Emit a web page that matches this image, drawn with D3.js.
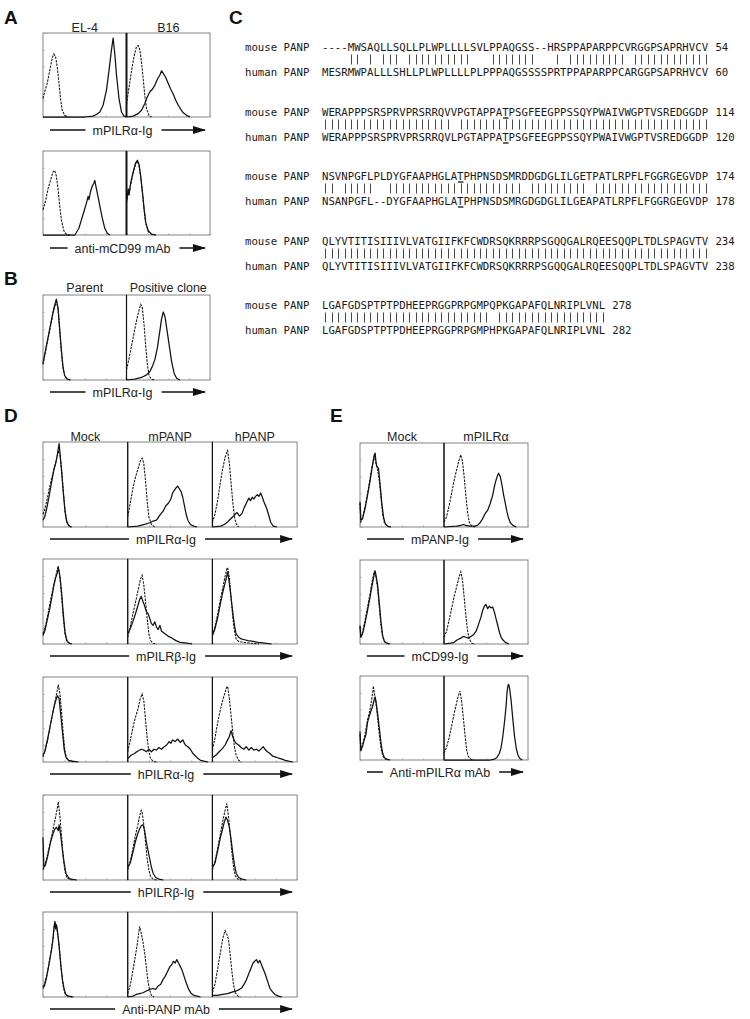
<!DOCTYPE html>
<html>
<head>
<meta charset="utf-8">
<script src="https://cdn.jsdelivr.net/npm/d3@7"></script>
<style>
  body { margin: 0; background: #fff; }
  svg { display: block; }
  .lbl { font-family: "Liberation Sans", Arial, sans-serif; font-size: 12.5px; fill: #222; }
  .letter { font-family: "Liberation Sans", Arial, sans-serif; font-size: 19px; font-weight: bold; fill: #111; }
  .seq { font-family: "DejaVu Sans Mono", monospace; font-size: 10.7px; fill: #1a1a1a; white-space: pre; }
</style>
</head>
<body>
<div id="fig"></div>
<script>
// ---- panel A : EL-4 / B16 stained with mPILRa-Ig and anti-mCD99 ----
const aColumns = ["EL-4", "B16"];
const aMarkers = ["mPILRα-Ig", "anti-mCD99 mAb"];
const aControl = [
  [
    [[0,22],[2,30],[5,40],[8,55],[11,70],[13,75],[15,72],[17,60],[19,42],[21,22],[23,8],[26,2],[30,0]],
    [[0,15],[3,35],[6,55],[9,72],[12,84],[14,85],[16,80],[18,65],[20,45],[22,25],[24,10],[27,2],[30,0]]
  ],
  [
    [[0,30],[3,40],[6,55],[9,65],[12,75],[14,77],[16,70],[18,55],[20,35],[22,18],[25,5],[28,1],[32,0]],
    [[0,38],[2,52],[3,47],[5,60],[8,74],[11,85],[13,88],[15,83],[17,69],[19,51],[21,31],[23,14],[26,4],[30,1],[35,0]]
  ]
];
const aStained = [
  [
    [[0,0],[50,0],[60,1],[64,3],[68,6],[72,14],[76,32],[79,55],[82,80],[84,94],[86,75],[88,50],[91,22],[94,6],[97,1],[100,0]],
    [[0,0],[8,1],[14,4],[18,8],[22,16],[25,24],[28,30],[31,33],[34,38],[37,45],[40,50],[42,55],[44,52],[47,47],[50,40],[53,33],[56,27],[59,20],[62,14],[65,9],[68,5],[72,2],[76,0]]
  ],
  [
    [[0,0],[38,0],[40,3],[43,8],[46,18],[49,28],[52,38],[54,46],[55,42],[57,52],[59,58],[61,62],[62,65],[64,55],[66,45],[68,35],[71,20],[74,8],[77,2],[80,0]],
    [[0,40],[2,55],[3,48],[5,62],[8,75],[11,86],[13,89],[15,84],[17,70],[19,52],[21,32],[23,15],[26,5],[30,1],[35,0]]
  ]
];

// ---- panel B : parent vs positive clone ----
const bColumns = ["Parent", "Positive clone"];
const bMarkers = ["mPILRα-Ig"];
const bControl = [[
  [[0,18],[3,33],[6,48],[9,63],[12,78],[14,86],[16,92],[18,84],[20,58],[22,33],[24,14],[26,5],[29,1],[33,0]],
  [[0,12],[3,25],[6,40],[9,55],[12,70],[15,82],[17,89],[19,85],[21,65],[23,40],[25,18],[27,5],[30,1],[34,0]]
]];
const bStained = [[
  [[0,20],[3,35],[6,50],[9,65],[12,80],[14,88],[16,95],[18,85],[20,60],[22,35],[24,15],[26,5],[29,1],[33,0]],
  [[0,0],[10,1],[18,3],[24,6],[28,10],[31,16],[34,24],[37,38],[40,58],[42,72],[44,80],[46,75],[48,62],[51,42],[54,22],[57,8],[60,2],[64,0]]
]];

// ---- panel C : mouse / human PANP alignment ----
const seqMouse = [
  "----MWSAQLLSQLLPLWPLLLLSVLPPAQGSS--HRSPPAPARPPCVRGGPSAPRHVCV",
  "WERAPPPSRSPRVPRSRRQVVPGTAPPATPSGFEEGPPSSQYPWAIVWGPTVSREDGGDP",
  "NSVNPGFLPLDYGFAAPHGLATPHPNSDSMRDDGDGLILGETPATLRPFLFGGRGEGVDP",
  "QLYVTITISIIIVLVATGIIFKFCWDRSQKRRRPSGQQGALRQEESQQPLTDLSPAGVTV",
  "LGAFGDSPTPTPDHEEPRGGPRPGMPQPKGAPAFQLNRIPLVNL"
];
const seqHuman = [
  "MESRMWPALLLSHLLPLWPLLLLPLPPPAQGSSSSPRTPPAPARPPCARGGPSAPRHVCV",
  "WERAPPPSRSPRVPRSRRQVLPGTAPPATPSGFEEGPPSSQYPWAIVWGPTVSREDGGDP",
  "NSANPGFL--DYGFAAPHGLATPHPNSDSMRGDGDGLILGEAPATLRPFLFGGRGEGVDP",
  "QLYVTITISIIIVLVATGIIFKFCWDRSQKRRRPSGQQGALRQEESQQPLTDLSPAGVTV",
  "LGAFGDSPTPTPDHEEPRGGPRPGMPHPKGAPAFQLNRIPLVNL"
];
const seqMouseEnd = [54, 114, 174, 234, 278];
const seqHumanEnd = [60, 120, 178, 238, 282];
const seqUnderline = [null, 28, 21, null, null];   // index of the underlined T
const seqNames = ["mouse PANP", "human PANP"];

// ---- panel D : mock / mPANP / hPANP transfectants ----
const dColumns = ["Mock", "mPANP", "hPANP"];
const dMarkers = ["mPILRα-Ig", "mPILRβ-Ig", "hPILRα-Ig", "hPILRβ-Ig", "Anti-PANP mAb"];
const dControl = [
  [
    [[0,15],[2,20],[5,33],[8,48],[11,60],[14,72],[16,80],[18,90],[20,85],[22,68],[24,42],[26,20],[28,7],[31,1],[34,0]],
    [[0,12],[3,28],[6,45],[9,58],[12,68],[15,78],[17,81],[19,75],[21,55],[23,30],[25,12],[28,3],[32,0]],
    [[0,5],[3,15],[6,30],[9,50],[12,68],[15,82],[17,88],[18,90],[20,75],[22,52],[24,30],[26,12],[28,4],[31,0]]
  ],
  [
    [[0,12],[3,22],[6,36],[9,52],[12,66],[15,80],[17,88],[18,92],[20,78],[22,55],[24,30],[26,12],[29,2],[33,0]],
    [[0,8],[3,20],[6,35],[9,48],[12,62],[15,76],[17,81],[19,70],[21,50],[23,30],[25,12],[27,4],[30,1],[34,0]],
    [[0,10],[3,20],[6,34],[9,50],[12,65],[15,80],[17,88],[18,90],[20,78],[22,55],[24,32],[26,15],[28,6],[31,3],[36,2],[45,1],[55,0]]
  ],
  [
    [[0,6],[3,15],[6,28],[9,45],[12,60],[15,75],[17,85],[18,91],[20,80],[22,58],[24,32],[26,12],[28,4],[32,1],[38,0]],
    [[0,12],[3,25],[6,40],[9,52],[12,62],[15,75],[17,80],[19,72],[21,50],[23,28],[25,12],[27,4],[30,1],[34,0]],
    [[0,14],[3,28],[6,45],[9,60],[12,72],[15,82],[17,88],[18,89],[20,75],[22,55],[24,35],[26,18],[28,8],[31,2],[34,0]]
  ],
  [
    [[0,12],[2,16],[5,28],[8,42],[11,55],[13,65],[15,75],[17,85],[18,92],[20,75],[22,50],[24,25],[26,10],[28,3],[31,1],[35,0]],
    [[0,12],[3,22],[6,36],[9,52],[12,65],[14,75],[16,82],[17,80],[19,65],[21,45],[23,25],[25,12],[27,4],[30,1],[34,0]],
    [[0,12],[3,22],[6,36],[9,52],[12,68],[15,82],[17,90],[19,75],[21,55],[23,32],[25,15],[27,5],[30,1],[34,0]]
  ],
  [
    [[0,12],[2,16],[5,28],[8,45],[11,62],[13,80],[14,88],[16,82],[18,70],[20,50],[22,28],[24,12],[26,4],[29,1],[34,0]],
    [[0,4],[3,14],[6,30],[9,48],[11,60],[13,75],[14,83],[16,75],[18,65],[20,52],[22,35],[24,18],[26,8],[28,2],[31,0]],
    [[0,5],[3,15],[6,32],[9,50],[11,62],[13,72],[15,78],[17,74],[19,68],[21,50],[23,30],[25,14],[27,5],[30,1],[33,0]]
  ]
];
const dStained = [
  [
    [[0,8],[2,12],[4,20],[7,35],[10,52],[13,68],[15,75],[16,80],[17,85],[18,92],[19,98],[20,88],[22,65],[24,40],[26,18],[28,6],[30,2],[33,0]],
    [[0,0],[12,1],[20,3],[26,5],[30,7],[34,8],[38,14],[42,19],[45,25],[48,28],[51,33],[53,40],[55,43],[57,46],[59,48],[61,45],[63,42],[65,35],[67,25],[69,15],[71,8],[74,3],[78,1],[82,0]],
    [[0,0],[10,1],[14,3],[18,6],[22,10],[26,14],[29,17],[32,13],[35,16],[38,24],[41,30],[43,34],[45,31],[47,35],[49,33],[51,36],[53,38],[55,36],[57,40],[59,35],[61,29],[64,22],[67,12],[69,5],[72,1],[76,0]]
  ],
  [
    [[0,10],[2,15],[5,28],[8,42],[11,58],[13,70],[15,78],[17,84],[18,90],[20,80],[22,60],[24,35],[26,14],[28,4],[31,1],[34,0]],
    [[0,12],[3,18],[6,26],[9,35],[12,45],[14,52],[16,56],[18,50],[20,45],[22,38],[24,36],[26,30],[28,24],[30,22],[32,26],[34,20],[36,17],[38,22],[40,15],[44,12],[48,9],[52,7],[57,4],[62,2],[70,1],[76,0]],
    [[0,10],[3,18],[6,30],[9,45],[12,60],[15,72],[17,80],[18,85],[20,72],[22,55],[24,38],[26,22],[28,12],[31,8],[34,6],[38,5],[42,4],[48,3],[54,2],[62,1],[70,0]]
  ],
  [
    [[0,8],[2,12],[5,25],[8,40],[11,55],[13,65],[15,72],[17,78],[19,75],[21,55],[23,35],[25,15],[27,6],[30,2],[35,1],[42,0]],
    [[0,4],[4,8],[8,10],[12,13],[16,15],[19,14],[22,12],[25,15],[28,12],[31,15],[34,14],[37,17],[40,15],[43,18],[46,20],[49,24],[51,22],[53,26],[56,24],[59,27],[62,23],[65,26],[68,20],[71,18],[74,15],[77,10],[80,7],[83,4],[86,2],[90,1],[95,0]],
    [[0,5],[4,8],[8,12],[12,16],[15,20],[18,26],[20,30],[22,37],[24,30],[26,25],[28,22],[31,20],[34,17],[37,15],[40,18],[43,14],[46,17],[49,14],[52,15],[55,13],[58,16],[60,18],[62,15],[65,12],[68,10],[71,7],[74,6],[77,5],[80,4],[83,3],[86,2],[90,1],[95,0]]
  ],
  [
    [[0,50],[1,15],[3,18],[6,30],[9,45],[12,55],[14,60],[16,62],[18,58],[19,65],[21,52],[23,35],[25,20],[27,8],[30,3],[33,1],[40,0]],
    [[0,15],[3,20],[6,32],[9,45],[12,55],[14,60],[16,64],[18,65],[20,58],[22,45],[24,35],[26,25],[28,15],[30,8],[33,3],[37,1],[42,0]],
    [[0,15],[3,20],[6,33],[9,48],[12,60],[14,68],[16,74],[18,70],[20,62],[22,48],[24,32],[26,18],[28,8],[31,3],[35,1],[40,0]]
  ],
  [
    [[0,10],[2,14],[4,22],[7,38],[10,55],[12,70],[13,82],[14,89],[15,80],[16,85],[17,78],[19,60],[21,38],[23,20],[25,9],[27,3],[30,1],[36,0]],
    [[0,0],[6,1],[10,3],[14,4],[18,5],[22,7],[26,9],[30,10],[33,9],[36,13],[39,15],[42,21],[44,24],[46,28],[48,32],[50,36],[52,38],[54,42],[56,40],[58,44],[60,40],[62,36],[64,32],[66,26],[68,20],[70,14],[72,9],[75,4],[78,2],[82,1],[86,0]],
    [[0,2],[6,2],[12,3],[18,4],[24,6],[28,7],[32,9],[35,11],[38,16],[40,20],[42,25],[44,30],[46,35],[48,40],[50,42],[52,44],[54,40],[56,43],[58,38],[60,33],[62,28],[64,22],[66,16],[68,10],[71,6],[74,3],[78,1],[82,0]]
  ]
];

// ---- panel E : mock / mPILRa transfectants ----
const eColumns = ["Mock", "mPILRα"];
const eMarkers = ["mPANP-Ig", "mCD99-Ig", "Anti-mPILRα mAb"];
const eControl = [
  [
    [[0,28],[1,6],[3,10],[6,24],[9,40],[12,58],[14,70],[16,80],[17,84],[19,76],[21,68],[23,55],[25,35],[27,15],[29,5],[32,1],[36,0]],
    [[0,6],[3,12],[6,25],[9,40],[12,55],[15,68],[18,80],[20,86],[22,78],[24,60],[26,38],[28,18],[30,6],[33,1],[37,0]]
  ],
  [
    [[0,20],[1,8],[3,14],[6,28],[9,44],[12,60],[14,72],[16,82],[17,86],[19,80],[21,66],[23,44],[25,22],[27,8],[30,2],[34,0]],
    [[0,8],[3,15],[6,28],[9,42],[12,56],[15,68],[18,80],[20,86],[22,76],[24,56],[26,34],[28,16],[30,6],[33,1],[37,0]]
  ],
  [
    [[0,30],[1,10],[3,18],[5,26],[7,36],[9,48],[11,56],[13,66],[15,80],[16,88],[17,80],[19,68],[21,50],[23,30],[25,14],[27,5],[30,1],[34,0]],
    [[0,8],[3,15],[6,26],[9,40],[12,55],[15,68],[17,76],[19,82],[21,70],[23,50],[25,30],[27,12],[29,4],[32,1],[36,0]]
  ]
];
const eStained = [
  [
    [[0,30],[1,8],[3,10],[6,22],[9,38],[12,55],[14,68],[16,80],[17,86],[18,88],[19,78],[20,72],[22,70],[24,50],[26,28],[28,12],[30,4],[33,1],[37,0]],
    [[0,0],[15,1],[20,2],[23,3],[26,2],[30,1],[36,1],[40,2],[43,5],[46,10],[49,16],[52,20],[55,28],[58,38],[60,48],[62,56],[64,62],[65,64],[67,60],[69,50],[71,38],[73,28],[75,18],[77,10],[79,5],[82,2],[86,0]]
  ],
  [
    [[0,22],[1,8],[3,12],[6,25],[9,40],[12,56],[14,68],[16,78],[17,84],[18,87],[19,82],[21,70],[23,48],[25,26],[27,10],[29,3],[32,1],[36,0]],
    [[0,0],[8,1],[12,2],[16,5],[20,7],[23,9],[26,8],[29,7],[32,9],[35,11],[38,15],[40,20],[42,26],[44,32],[46,40],[48,45],[50,47],[52,42],[54,45],[56,43],[58,44],[60,38],[62,30],[64,22],[66,14],[68,8],[70,5],[73,2],[77,0]]
  ],
  [
    [[0,34],[1,12],[3,16],[5,24],[7,30],[9,45],[11,52],[13,58],[15,64],[17,72],[18,75],[19,70],[21,55],[23,38],[25,20],[27,8],[29,3],[32,1],[36,0]],
    [[0,0],[55,0],[60,1],[63,3],[66,8],[68,15],[70,28],[72,45],[74,65],[75,80],[76,88],[77,90],[78,86],[80,70],[82,48],[84,28],[86,14],[88,6],[90,2],[93,0]]
  ]
];

const W = 750, H = 1019;
const svg = d3.select("#fig").append("svg")
    .attr("width", W).attr("height", H)
    .attr("viewBox", `0 0 ${W} ${H}`);
svg.append("rect").attr("width", W).attr("height", H).attr("fill", "#fff");

svg.append("defs").append("marker")
    .attr("id", "arrow")
    .attr("markerUnits", "userSpaceOnUse")
    .attr("markerWidth", 13).attr("markerHeight", 8)
    .attr("refX", 12).attr("refY", 4)
    .attr("orient", "auto")
  .append("path")
    .attr("d", "M0,0 L13,4 L0,8 Z")
    .attr("fill", "#111");

// panel letters
[["A", 4, 24], ["B", 4, 285], ["C", 229, 24], ["D", 4, 422], ["E", 330, 422]].forEach(d => {
  svg.append("text").attr("class", "letter").attr("x", d[1]).attr("y", d[2]).text(d[0]);
});

// one block of flow histograms: columns x rows
const drawFlow = (cfg) => {
  let g = svg.append("g");
  let nCols = cfg.columns.length;
  let right = cfg.left + nCols * cfg.colW;

  // column headers
  cfg.columns.forEach((c, i) => {
    g.append("text").attr("class", "lbl")
      .attr("x", cfg.left + (i + 0.5) * cfg.colW)
      .attr("y", cfg.headerY)
      .attr("text-anchor", "middle")
      .text(c);
  });

  cfg.markers.forEach((m, r) => {
    let top = cfg.rowTops[r], bottom = top + cfg.rowH;
    let y = d3.scaleLinear().domain([0, 100]).range([bottom, top]);

    cfg.columns.forEach((c, i) => {
      let x0 = cfg.left + i * cfg.colW;
      let x = d3.scaleLinear().domain([0, 100]).range([x0, x0 + cfg.colW]);
      let xLog = d3.scaleLog().domain([1, 1e4]).range([x0, x0 + cfg.colW]);

      g.append("rect")
        .attr("x", x0).attr("y", top)
        .attr("width", cfg.colW).attr("height", cfg.rowH)
        .attr("fill", "none").attr("stroke", "#777").attr("stroke-width", 0.9);

      // tiny inward log ticks on the fluorescence axis
      let ax = g.append("g").attr("transform", `translate(0,${bottom})`)
        .call(d3.axisBottom(xLog).ticks(4).tickSize(-2).tickFormat(""));
      ax.select(".domain").remove();
      ax.selectAll("line").attr("stroke", "#999").attr("stroke-width", 0.5);
      if (i === 0) {
        let ay = g.append("g").attr("transform", `translate(${x0},0)`)
          .call(d3.axisLeft(y).ticks(5).tickSize(-2).tickFormat(""));
        ay.select(".domain").remove();
        ay.selectAll("line").attr("stroke", "#999").attr("stroke-width", 0.5);
      }

      let line = d3.line().x(d => x(d[0])).y(d => y(d[1]));
      g.append("path")
        .attr("d", line(cfg.control[r][i]))
        .attr("fill", "none").attr("stroke", "#111")
        .attr("stroke-width", 1.05).attr("stroke-dasharray", "2.4,1.1");
      g.append("path")
        .attr("d", line(cfg.stained[r][i]))
        .attr("fill", "none").attr("stroke", "#111")
        .attr("stroke-width", 1.25).attr("stroke-linejoin", "round");

      if (i > 0) {
        g.append("line")
          .attr("x1", x0).attr("x2", x0).attr("y1", top).attr("y2", bottom)
          .attr("stroke", "#111").attr("stroke-width", cfg.divW);
      }
    });

    // axis caption with bar and arrow
    let cx = (cfg.left + right) / 2 - 4;
    let ly = bottom + cfg.capGap;
    let t = g.append("text").attr("class", "lbl")
      .attr("x", cx).attr("y", ly + 4.5)
      .attr("text-anchor", "middle").text(m);
    let tw = t.node().getComputedTextLength();
    g.append("line")
      .attr("x1", cfg.left + 7).attr("x2", cx - tw / 2 - 7)
      .attr("y1", ly).attr("y2", ly)
      .attr("stroke", "#111").attr("stroke-width", 1.5);
    g.append("line")
      .attr("x1", cx + tw / 2 + 9).attr("x2", right - 5)
      .attr("y1", ly).attr("y2", ly)
      .attr("stroke", "#111").attr("stroke-width", 1.5)
      .attr("marker-end", "url(#arrow)");
  });
};

drawFlow({left: 43, colW: 83.5, rowTops: [33, 151], rowH: 84, headerY: 32, capGap: 13,
  columns: aColumns, markers: aMarkers, control: aControl, stained: aStained, divW: 2});
drawFlow({left: 43, colW: 83.5, rowTops: [295], rowH: 85, headerY: 292, capGap: 12,
  columns: bColumns, markers: bMarkers, control: bControl, stained: bStained, divW: 1.2});
drawFlow({left: 43, colW: 84.7, rowTops: [442, 559, 677, 795, 912], rowH: 85, headerY: 441, capGap: 12,
  columns: dColumns, markers: dMarkers, control: dControl, stained: dStained, divW: 1.2});
drawFlow({left: 360, colW: 84, rowTops: [443, 560, 676], rowH: 84, headerY: 441, capGap: 12,
  columns: eColumns, markers: eMarkers, control: eControl, stained: eStained, divW: 1.2});

// ---- panel C alignment ----
const seqX = 322, nameX = 245, cw = 6.45;
const blockY = [47, 112, 176, 241, 305];
let gC = svg.append("g");
seqMouse.forEach((ms, b) => {
  let hs = seqHuman[b];
  let yM = blockY[b] + 4, yH = blockY[b] + 25 + 4, yB = blockY[b] + 12.5;
  [[seqNames[0], ms, seqMouseEnd[b], yM], [seqNames[1], hs, seqHumanEnd[b], yH]].forEach(row => {
    gC.append("text").attr("class", "seq").attr("x", nameX).attr("y", row[3]).text(row[0]);
    gC.append("text").attr("class", "seq").attr("x", seqX).attr("y", row[3]).text(row[1]);
    gC.append("text").attr("class", "seq").attr("x", seqX + (row[1].length + 1) * cw).attr("y", row[3]).text(row[2]);
    if (seqUnderline[b] !== null) {
      gC.append("line")
        .attr("x1", seqX + seqUnderline[b] * cw + 0.5).attr("x2", seqX + (seqUnderline[b] + 1) * cw - 0.5)
        .attr("y1", row[3] + 2).attr("y2", row[3] + 2)
        .attr("stroke", "#111").attr("stroke-width", 1.3);
    }
  });
  // identity bars between matching residues
  let matches = ms.split("").map((ch, k) => (ch !== "-" && ch === hs[k]) ? k : -1).filter(k => k >= 0);
  gC.selectAll(null).data(matches).enter().append("line")
    .attr("x1", k => Math.round(seqX + (k + 0.5) * cw) + 0.5)
    .attr("x2", k => Math.round(seqX + (k + 0.5) * cw) + 0.5)
    .attr("y1", yB - 5).attr("y2", yB + 5)
    .attr("stroke", "#333").attr("stroke-width", 0.9);
});
</script>
</body>
</html>
